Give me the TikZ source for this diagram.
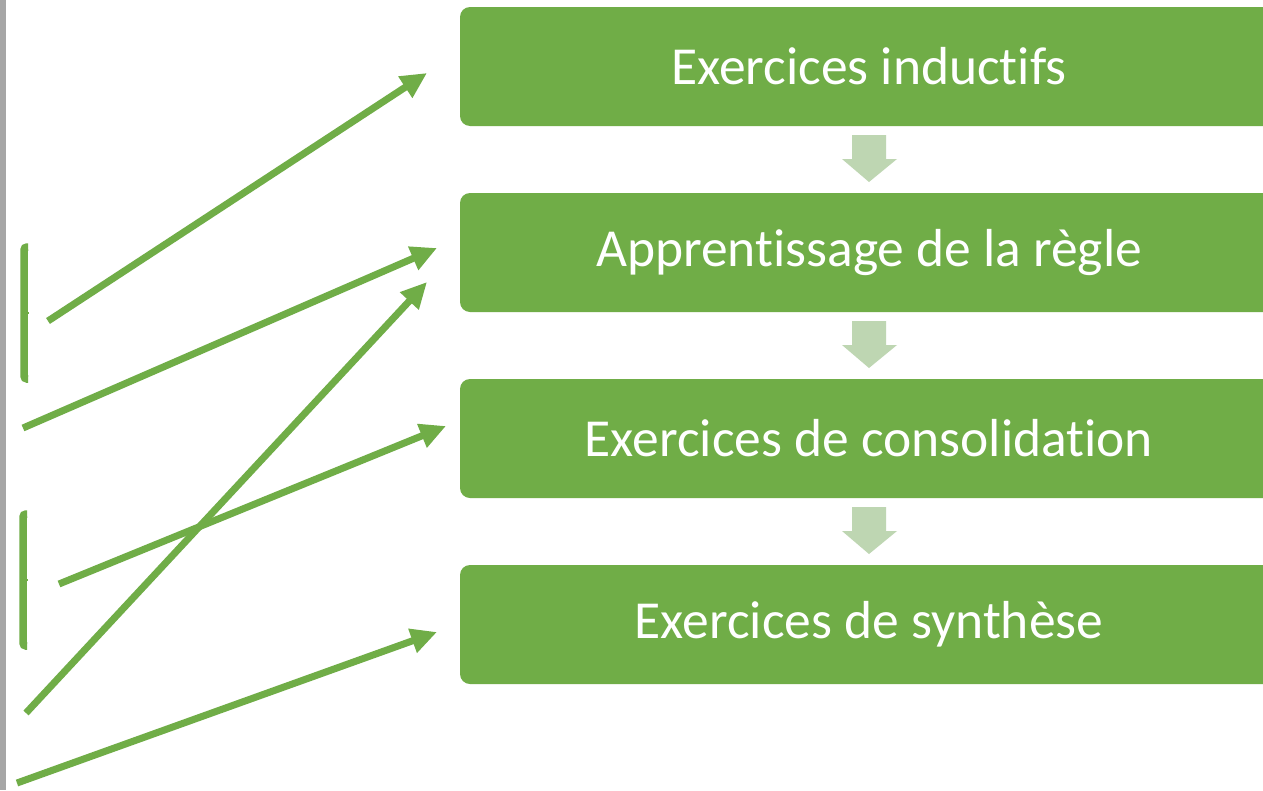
\documentclass[tikz,border=0pt]{standalone}
\usepackage{fontspec}
\setmainfont{Carlito}[Ligatures=NoCommon]
\usetikzlibrary{arrows.meta}
\definecolor{gr}{HTML}{70AD47}
\definecolor{lgr}{HTML}{BED6B2}
\definecolor{gry}{HTML}{A6A6A6}
\begin{document}
\begin{tikzpicture}[x=1pt,y=-1pt,
  stepbox/.style={fill=gr,draw=none,rounded corners=10pt,minimum width=818pt,minimum height=119pt,inner sep=0pt,text=white,font=\fontsize{53.5}{58}\selectfont},
  conn/.style={draw=gr,line width=7pt,-{Triangle[length=26pt,width=24pt]}},
  brk/.style={draw=gr,line width=7.5pt,rounded corners=3pt},
  darrow/.style={fill=lgr,draw=none}]
\clip (0,0) rectangle (1263,790);
\fill[white] (0,0) rectangle (1263,790);
\fill[gry] (0,0) rectangle (5.5,790);
\node[stepbox] (b1) at (869,66.5) {Exercices inductifs};
\node[stepbox] (b2) at (869,252.5) {Apprentissage de la règle};
\node[stepbox] (b3) at (869,438.5) {Exercices de consolidation};
\node[stepbox] (b4) at (869,624.5) {Exercices de synthèse};
% down arrows
\foreach \o in {0,186,372}{
  \fill[darrow] (852,135+\o) -- (886,135+\o) -- (886,159+\o) -- (897,159+\o) -- (869,182+\o) -- (842,159+\o) -- (852,159+\o) -- cycle;
}
% brackets
\draw[brk] (28,247) -- (24,247) -- (24,379) -- (28,379);
\draw[gr,line width=2pt] (27,313) -- (29,313);
\draw[brk] (27,514) -- (23,514) -- (23,646) -- (27,646);
\draw[gr,line width=2pt] (26,580) -- (28,580);
% connector end points
\coordinate (s1) at (48,321);
\coordinate (t1) at (427,73);
\coordinate (s2) at (23,428);
\coordinate (t2) at (437,248);
\coordinate (s3) at (26,713);
\coordinate (t3) at (427,282);
\coordinate (s4) at (59,584);
\coordinate (t4) at (446,426);
\coordinate (s5) at (17,783);
\coordinate (t5) at (437,632);
\draw[conn] (s1) -- (t1);
\draw[conn] (s2) -- (t2);
\draw[conn] (s3) -- (t3);
\draw[conn] (s4) -- (t4);
\draw[conn] (s5) -- (t5);
\end{tikzpicture}
\end{document}
